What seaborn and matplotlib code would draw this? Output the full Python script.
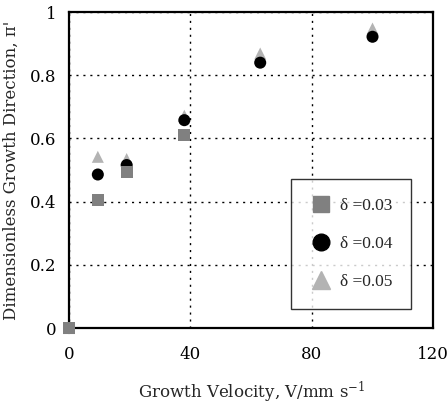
import matplotlib
matplotlib.use("Agg")
import matplotlib.pyplot as plt
import seaborn as sns
import pandas as pd
from matplotlib.lines import Line2D

sns.set_theme(style="white")
plt.rcParams['font.family'] = ['DejaVu Serif']
plt.rcParams['mathtext.fontset'] = 'dejavuserif'

velocity = [0, 9.5, 19, 38, 63, 100]
velocity_003 = [0, 9.5, 19, 38]
pi_003 = [0, 0.405, 0.493, 0.61]
pi_004 = [0, 0.486, 0.516, 0.658, 0.84, 0.922]
pi_005 = [0, 0.542, 0.535, 0.672, 0.869, 0.948]
labels = ["\u03b4 =0.03", "\u03b4 =0.04", "\u03b4 =0.05"]
x_ticks = [0, 40, 80, 120]
y_ticks = [0, 0.2, 0.4, 0.6, 0.8, 1]
y_tick_labels = ["0", "0.2", "0.4", "0.6", "0.8", "1"]

fig = plt.figure(figsize=(4.48, 4.04), dpi=100)
ax = fig.add_axes([0.154, 0.188, 0.813, 0.782])

styles = [
    (velocity, pi_005, "^", "#b3b3b3", 3),
    (velocity, pi_004, "o", "#000000", 4),
    (velocity_003, pi_003, "s", "#808080", 5),
]
for xs, vals, m, c, z in styles:
    df = pd.DataFrame({"V": xs, "pi": vals})
    sns.scatterplot(data=df, x="V", y="pi", marker=m, color=c, s=75,
                    edgecolor="none", ax=ax, zorder=z, clip_on=False)

ax.set_xlim(0, 120)
ax.set_ylim(0, 1)
ax.set_xticks(x_ticks)
ax.set_yticks(y_ticks)
ax.set_yticklabels(y_tick_labels)
ax.tick_params(axis='both', length=0, labelsize=12, colors='black')
ax.tick_params(axis='x', pad=13)
ax.tick_params(axis='y', pad=9)
ax.grid(True, color='black', linestyle=(0, (1.5, 3.5)), linewidth=1.0)
for side, sp in ax.spines.items():
    sp.set_color('black')
    sp.set_linewidth(1.6)
ax.set_xlabel("Growth Velocity, V/mm s$^{\\mathregular{-1}}$", fontsize=12, labelpad=12)
ax.set_ylabel("Dimensionless Growth Direction, \u03c0'", fontsize=12, labelpad=7)

handles = [
    Line2D([], [], marker="s", color="#808080", linestyle="none", markersize=12),
    Line2D([], [], marker="o", color="#000000", linestyle="none", markersize=12),
    Line2D([], [], marker="^", color="#b3b3b3", linestyle="none", markersize=13),
]
leg = ax.legend(handles, labels, loc="lower right", bbox_to_anchor=(0.94, 0.06),
                frameon=True, fancybox=False, edgecolor='black',
                prop={'family': 'Liberation Serif', 'size': 12.5},
                borderpad=1.1, labelspacing=1.25, handletextpad=0.5,
                handlelength=1.2, borderaxespad=0)
leg.get_frame().set_linewidth(1.0)
leg.set_zorder(10)

fig.savefig("out.png", dpi=100, facecolor='white')
